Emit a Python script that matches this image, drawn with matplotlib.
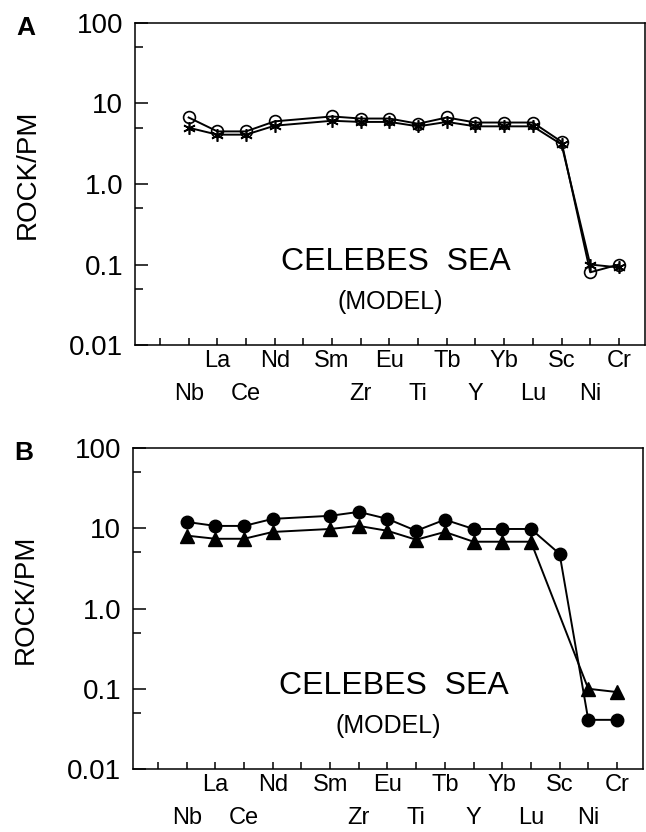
import numpy as np
import matplotlib
matplotlib.use("Agg")
import matplotlib.pyplot as plt
from matplotlib.ticker import FixedLocator, NullFormatter

plt.rcParams['font.family'] = ['Liberation Sans', 'DejaVu Sans']

# x slots on the axis (empty slots carry a tick but no element)
slots = ['', 'Nb', 'La', 'Ce', 'Nd', '', 'Sm', 'Zr', 'Eu', 'Ti', 'Tb', 'Y', 'Yb', 'Lu', 'Sc', 'Ni', 'Cr']
elements = ['Nb', 'La', 'Ce', 'Nd', 'Sm', 'Zr', 'Eu', 'Ti', 'Tb', 'Y', 'Yb', 'Lu', 'Sc', 'Ni', 'Cr']

# panel A (model)
a_circle = [6.7, 4.5, 4.5, 6.0, 6.9, 6.5, 6.5, 5.6, 6.7, 5.8, 5.8, 5.8, 3.35, 0.08, 0.10]
a_star = [5.0, 4.1, 4.1, 5.3, 6.1, 5.9, 5.9, 5.2, 5.9, 5.2, 5.2, 5.2, 3.1, 0.10, 0.092]

# panel B (model)
b_circle = [12.0, 10.7, 10.7, 13.1, 14.3, 16.0, 13.1, 9.3, 12.8, 9.8, 9.8, 9.8, 4.8, 0.041, 0.041]
b_triangle = [8.1, 7.4, 7.4, 9.0, 9.8, 10.7, 9.3, 7.2, 9.0, 6.8, 6.8, 6.8, None, 0.10, 0.091]

yticks = [0.01, 0.1, 1.0, 10, 100]
yticklabels = ['0.01', '0.1', '1.0', '10', '100']
yminor = [0.05, 0.5, 5, 50]


def series_xy(vals):
    pts = [(slots.index(e), v) for e, v in zip(elements, vals) if v is not None]
    x, y = zip(*pts)
    return np.array(x), np.array(y)


def setup_axes(ax, letter):
    ax.set_yscale('log')
    ax.set_ylim(0.01, 100)
    ax.set_xlim(-0.87, 16.9)
    ax.yaxis.set_major_locator(FixedLocator(yticks))
    ax.set_yticklabels(yticklabels)
    ax.yaxis.set_minor_locator(FixedLocator(yminor))
    ax.yaxis.set_minor_formatter(NullFormatter())
    ax.set_xticks(range(len(slots)))
    ax.set_xticklabels([''] * len(slots))
    ax.tick_params(axis='y', which='major', direction='in', length=9, width=1.1,
                   labelsize=20, pad=8.5)
    ax.tick_params(axis='y', which='minor', direction='in', length=6, width=1.1)
    ax.tick_params(axis='x', direction='in', length=5, width=1.1)
    for sp in ax.spines.values():
        sp.set_linewidth(1.1)
    # staggered element labels
    for i, name in enumerate(slots):
        if not name:
            continue
        off = -11.5 if i % 2 == 0 else -35
        ax.annotate(name, xy=(i, 0), xycoords=('data', 'axes fraction'),
                    xytext=(0, off), textcoords='offset points',
                    ha='center', va='center', fontsize=17)
    ax.text(-0.21, 0.53, 'ROCK/PM', transform=ax.transAxes, rotation=90,
            ha='center', va='center', fontsize=20)
    ax.text(-0.215, 0.985, letter, transform=ax.transAxes, ha='center', va='center',
            fontsize=19, fontweight='bold')
    ax.text(0.512, 0.258, 'CELEBES  SEA', transform=ax.transAxes,
            ha='center', va='center', fontsize=23)
    ax.text(0.5, 0.134, '(MODEL)', transform=ax.transAxes,
            ha='center', va='center', fontsize=18)


fig = plt.figure(figsize=(6.46, 8.32), dpi=100)
ax1 = fig.add_axes([0.209, 0.5853, 0.789, 0.3871])
ax2 = fig.add_axes([0.206, 0.0757, 0.789, 0.3858])

x, y = series_xy(a_circle)
ax1.plot(x, y, color='black', lw=1.4, marker='o', ms=8.5, mfc='none', mec='black', mew=1.2)
x, y = series_xy(a_star)
ax1.plot(x, y, color='black', lw=1.4, marker=(6, 2, 0), ms=9, mec='black', mew=1.2)
setup_axes(ax1, 'A')

x, y = series_xy(b_circle)
ax2.plot(x, y, color='black', lw=1.4, marker='o', ms=9, mfc='black', mec='black')
x, y = series_xy(b_triangle)
ax2.plot(x, y, color='black', lw=1.4, marker='^', ms=9.5, mfc='black', mec='black')
setup_axes(ax2, 'B')

fig.savefig('out.png', dpi=100)
